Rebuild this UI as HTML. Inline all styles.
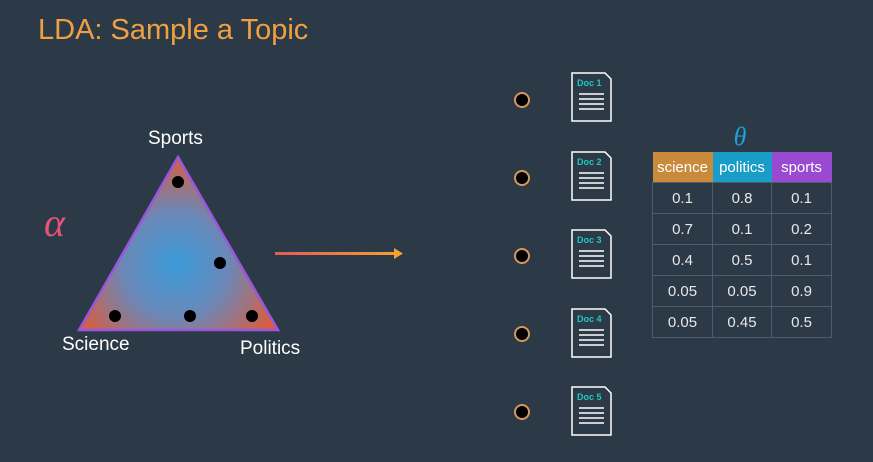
<!DOCTYPE html>
<html><head><style>
body{margin:0;width:873px;height:462px;background:#2c3947;overflow:hidden;position:relative;font-family:"Liberation Sans",sans-serif;}
.t{position:absolute;color:#fff;}
.doc{position:absolute;left:571px;width:41px;height:50px;}
.dot{position:absolute;left:514px;width:12px;height:12px;border-radius:50%;background:#000;border:2px solid #d9975a;}
table{position:absolute;left:652px;top:152px;border-collapse:collapse;}
td{border:1.5px solid #4e5c6b;color:#e8e8e8;text-align:center;font-size:15px;height:30px;padding:0;}
th{color:#fff;font-weight:normal;font-size:15px;height:30px;padding:0;}
</style></head><body>
<div class="t" style="left:38px;top:14px;font-size:29px;color:#f0a040;">LDA: Sample a Topic</div>
<svg width="873" height="462" style="position:absolute;left:0;top:0">
<defs>
<radialGradient id="g" cx="176" cy="265" r="115" gradientUnits="userSpaceOnUse">
<stop offset="0" stop-color="#3a9ad8"/><stop offset="0.45" stop-color="#6a88b8"/><stop offset="1" stop-color="#e05a38"/></radialGradient>
<linearGradient id="a" x1="275" y1="0" x2="400" y2="0" gradientUnits="userSpaceOnUse"><stop offset="0" stop-color="#e55a5a"/><stop offset="1" stop-color="#f5a030"/></linearGradient>
</defs>
<polygon points="178,157 79,330 278,330" fill="url(#g)" stroke="#9a55e0" stroke-width="2.5"/>
<circle cx="178" cy="182" r="6"/><circle cx="220" cy="263" r="6"/><circle cx="115" cy="316" r="6"/><circle cx="190" cy="316" r="6"/><circle cx="252" cy="316" r="6"/>
<rect x="275" y="252" width="120" height="3" fill="url(#a)"/>
<polygon points="394,248 403,253.5 394,259" fill="#f5a030"/>
<text x="44" y="236" font-family="Liberation Serif" font-style="italic" font-size="40" fill="#e8527a">α</text>
<text x="740" y="145" font-family="Liberation Serif" font-style="italic" font-size="26" fill="#1ea0d8" text-anchor="middle">θ</text>
</svg>
<div class="t" style="left:148px;top:128px;font-size:19px;">Sports</div>
<div class="t" style="left:62px;top:334px;font-size:19px;">Science</div>
<div class="t" style="left:240px;top:338px;font-size:19px;">Politics</div>
<div class="dot" style="top:92px"></div><div class="dot" style="top:170px"></div><div class="dot" style="top:248px"></div><div class="dot" style="top:326px"></div><div class="dot" style="top:404px"></div>
<svg class="doc" style="top:72px" viewBox="0 0 41 50"><path d="M1,1H34L40,7V49H1Z" fill="none" stroke="#fff" stroke-width="1.5"/><text x="6" y="14" font-size="9" font-weight="bold" fill="#1fc8c0" font-family="Liberation Sans">Doc 1</text><path d="M8,22H33M8,27H33M8,32H33M8,37H33" stroke="#fff" stroke-width="1.5"/></svg>
<svg class="doc" style="top:151px" viewBox="0 0 41 50"><path d="M1,1H34L40,7V49H1Z" fill="none" stroke="#fff" stroke-width="1.5"/><text x="6" y="14" font-size="9" font-weight="bold" fill="#1fc8c0" font-family="Liberation Sans">Doc 2</text><path d="M8,22H33M8,27H33M8,32H33M8,37H33" stroke="#fff" stroke-width="1.5"/></svg>
<svg class="doc" style="top:229px" viewBox="0 0 41 50"><path d="M1,1H34L40,7V49H1Z" fill="none" stroke="#fff" stroke-width="1.5"/><text x="6" y="14" font-size="9" font-weight="bold" fill="#1fc8c0" font-family="Liberation Sans">Doc 3</text><path d="M8,22H33M8,27H33M8,32H33M8,37H33" stroke="#fff" stroke-width="1.5"/></svg>
<svg class="doc" style="top:308px" viewBox="0 0 41 50"><path d="M1,1H34L40,7V49H1Z" fill="none" stroke="#fff" stroke-width="1.5"/><text x="6" y="14" font-size="9" font-weight="bold" fill="#1fc8c0" font-family="Liberation Sans">Doc 4</text><path d="M8,22H33M8,27H33M8,32H33M8,37H33" stroke="#fff" stroke-width="1.5"/></svg>
<svg class="doc" style="top:386px" viewBox="0 0 41 50"><path d="M1,1H34L40,7V49H1Z" fill="none" stroke="#fff" stroke-width="1.5"/><text x="6" y="14" font-size="9" font-weight="bold" fill="#1fc8c0" font-family="Liberation Sans">Doc 5</text><path d="M8,22H33M8,27H33M8,32H33M8,37H33" stroke="#fff" stroke-width="1.5"/></svg>
<table>
<tr><th style="background:#c98a3c;width:60px">science</th><th style="background:#1a9cc8;width:59px">politics</th><th style="background:#9a4ad0;width:60px">sports</th></tr>
<tr><td>0.1</td><td>0.8</td><td>0.1</td></tr>
<tr><td>0.7</td><td>0.1</td><td>0.2</td></tr>
<tr><td>0.4</td><td>0.5</td><td>0.1</td></tr>
<tr><td>0.05</td><td>0.05</td><td>0.9</td></tr>
<tr><td>0.05</td><td>0.45</td><td>0.5</td></tr>
</table>
</body></html>
